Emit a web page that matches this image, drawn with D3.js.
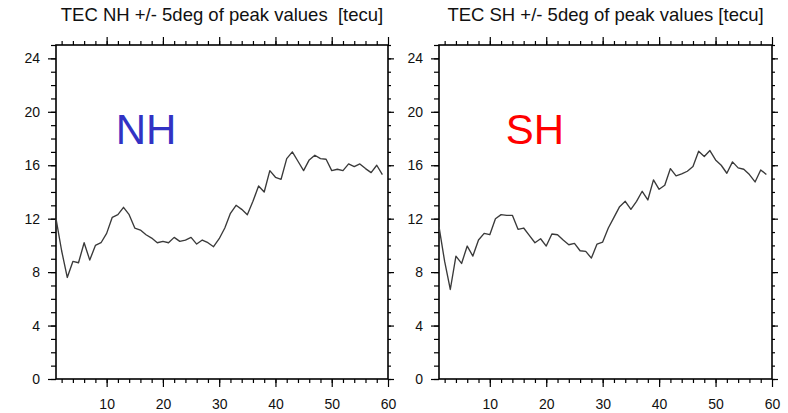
<!DOCTYPE html>
<html>
<head>
<meta charset="utf-8">
<script src="https://cdn.jsdelivr.net/npm/d3@7"></script>
<style>
  body { margin: 0; background: #fff; }
  svg { font-family: "Liberation Sans", Arial, Helvetica, sans-serif; }
</style>
</head>
<body>
<div id="container"></div>
<script>
// data: day index vs TEC (tecu)
let days = d3.range(1, 60);
let nhTec = [12.0, 9.6, 7.6, 8.8, 8.7, 10.2, 8.9, 10.0, 10.2, 10.9,
             12.1, 12.3, 12.85, 12.3, 11.3, 11.15, 10.8, 10.55, 10.2, 10.3,
             10.2, 10.6, 10.3, 10.4, 10.6, 10.1, 10.4, 10.2, 9.9, 10.5,
             11.3, 12.4, 13.0, 12.7, 12.3, 13.3, 14.45, 14.0, 15.6, 15.1,
             14.95, 16.5, 17.0, 16.3, 15.6, 16.4, 16.75, 16.5, 16.45, 15.6,
             15.7, 15.6, 16.1, 15.9, 16.1, 15.75, 15.45, 16.0, 15.3];
let shTec = [11.4, 8.8, 6.7, 9.2, 8.65, 9.95, 9.2, 10.4, 10.9, 10.8,
             12.0, 12.3, 12.25, 12.25, 11.2, 11.3, 10.75, 10.2, 10.5, 9.95,
             10.85, 10.8, 10.4, 10.05, 10.15, 9.6, 9.55, 9.05, 10.1, 10.25,
             11.3, 12.1, 12.9, 13.3, 12.7, 13.3, 14.05, 13.4, 14.9, 14.2,
             14.5, 15.75, 15.2, 15.35, 15.55, 15.9, 17.05, 16.65, 17.1, 16.4,
             16.0, 15.4, 16.25, 15.8, 15.7, 15.3, 14.75, 15.65, 15.3];

let xMajor = [10, 20, 30, 40, 50, 60];
let xMinor = d3.range(2, 60, 2);
let yMajor = [0, 4, 8, 12, 16, 20, 24];
let yMinor = d3.range(0, 26, 1);

let titles = ["TEC NH +/- 5deg of peak values  [tecu]", "TEC SH +/- 5deg of peak values [tecu]"];
let labels = ["NH", "SH"];
let labelColors = ["#3232c4", "#ff0000"];
let labelPos = [[17, 18.7], [18, 18.7]];

let w = 788;
let h = 413;

let svg = d3.select("#container")
    .append("svg")
    .attr("width", w)
    .attr("height", h);

let panels = [
    {left: 56, right: 388, data: nhTec},
    {left: 439, right: 772, data: shTec}
];
let plotTop = 45;
let plotBottom = 379;

panels.forEach(function(p, i){
    let xScale = d3.scaleLinear().domain([1, 60]).range([p.left, p.right]);
    let yScale = d3.scaleLinear().domain([0, 25]).range([plotBottom, plotTop]);

    let g = svg.append("g").classed("panel", true);

    // helper to draw one axis and strip the domain line
    function addAxis(axis, tx, ty, showLabels){
        let ag = g.append("g")
            .attr("transform", "translate(" + tx + "," + ty + ")")
            .call(axis);
        ag.select(".domain").remove();
        ag.selectAll("line").attr("stroke", "#000").attr("stroke-width", 1.2);
        if(!showLabels){ ag.selectAll("text").remove(); }
        return ag;
    }

    // minor ticks
    addAxis(d3.axisBottom(xScale).tickValues(xMinor).tickSize(4).tickSizeOuter(0), 0, plotBottom, false);
    addAxis(d3.axisTop(xScale).tickValues(xMinor).tickSize(4).tickSizeOuter(0), 0, plotTop, false);
    addAxis(d3.axisLeft(yScale).tickValues(yMinor).tickSize(5).tickSizeOuter(0), p.left, 0, false);
    addAxis(d3.axisRight(yScale).tickValues(yMinor).tickSize(3).tickSizeOuter(0), p.right, 0, false);

    // major ticks
    let xb = addAxis(d3.axisBottom(xScale).tickValues(xMajor).tickSize(8).tickSizeOuter(0).tickPadding(12), 0, plotBottom, true);
    xb.selectAll("text").attr("font-size", 14).attr("font-family", null).attr("fill", "#111");
    addAxis(d3.axisTop(xScale).tickValues(xMajor).tickSize(8).tickSizeOuter(0), 0, plotTop, false);
    let yl = addAxis(d3.axisLeft(yScale).tickValues(yMajor).tickSize(8).tickSizeOuter(0).tickPadding(8), p.left, 0, true);
    yl.selectAll("text").attr("font-size", 14).attr("font-family", null).attr("fill", "#111");
    addAxis(d3.axisRight(yScale).tickValues(yMajor).tickSize(6).tickSizeOuter(0), p.right, 0, false);

    // frame
    g.append("rect")
        .attr("x", p.left)
        .attr("y", plotTop)
        .attr("width", p.right - p.left)
        .attr("height", plotBottom - plotTop)
        .attr("fill", "none")
        .attr("stroke", "#000")
        .attr("stroke-width", 1.6);

    // the line
    let line = d3.line()
        .x(function(d, j){ return xScale(days[j]); })
        .y(function(d){ return yScale(d); });
    g.append("path")
        .datum(p.data)
        .attr("d", line)
        .attr("fill", "none")
        .attr("stroke", "#3a3a3a")
        .attr("stroke-width", 1.35)
        .attr("stroke-linejoin", "round");

    // title
    g.append("text")
        .attr("x", (p.left + p.right) / 2)
        .attr("y", 21)
        .attr("text-anchor", "middle")
        .attr("font-size", 18.5)
        .attr("fill", "#111")
        .style("white-space", "pre")
        .text(titles[i]);

    // big hemisphere label
    g.append("text")
        .attr("x", xScale(labelPos[i][0]))
        .attr("y", yScale(labelPos[i][1]))
        .attr("dy", "0.36em")
        .attr("text-anchor", "middle")
        .attr("font-size", 42)
        .attr("fill", labelColors[i])
        .text(labels[i]);
});
</script>
</body>
</html>
